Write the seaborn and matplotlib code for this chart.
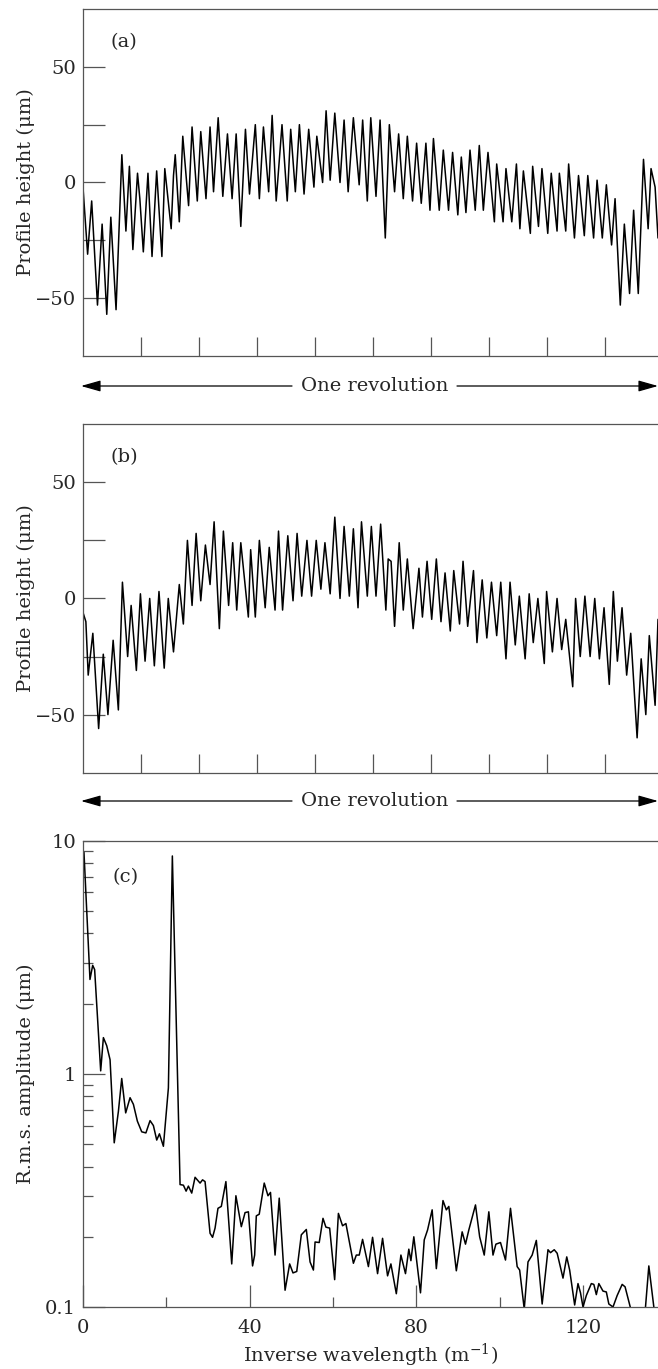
import numpy as np
import pandas as pd
import seaborn as sns
import matplotlib.pyplot as plt
from matplotlib.patches import FancyArrowPatch
from matplotlib.ticker import FixedLocator, FixedFormatter, NullFormatter, LogLocator

# profile (a): position round the wheel (tick divisions) and height (um)
pos_a = [0.00, 0.08, 0.15, 0.25, 0.33, 0.41, 0.48, 0.57, 0.67, 0.74, 0.80, 0.86, 0.94, 0.98,
         1.04, 1.12, 1.19, 1.27, 1.36, 1.41, 1.52, 1.56, 1.59, 1.66, 1.72, 1.82, 1.88, 1.97,
         2.03, 2.12, 2.19, 2.25, 2.33, 2.41, 2.49, 2.57, 2.64, 2.72, 2.80, 2.87, 2.97, 3.04,
         3.11, 3.20, 3.26, 3.33, 3.43, 3.52, 3.58, 3.66, 3.73, 3.81, 3.89, 3.98, 4.03, 4.13,
         4.19, 4.26, 4.34, 4.43, 4.50, 4.57, 4.66, 4.76, 4.82, 4.90, 4.96, 5.05, 5.12, 5.21,
         5.28, 5.37, 5.44, 5.52, 5.59, 5.68, 5.75, 5.83, 5.91, 5.98, 6.04, 6.14, 6.21, 6.30,
         6.37, 6.46, 6.52, 6.60, 6.67, 6.76, 6.83, 6.90, 6.98, 7.09, 7.13, 7.24, 7.29, 7.39,
         7.47, 7.53, 7.59, 7.71, 7.75, 7.85, 7.91, 8.01, 8.07, 8.17, 8.21, 8.32, 8.37, 8.47,
         8.54, 8.64, 8.70, 8.80, 8.86, 8.95, 9.02, 9.11, 9.17, 9.26, 9.33, 9.42, 9.49, 9.57,
         9.66, 9.74, 9.79, 9.86, 9.91]
height_a = [-2, -31, -8, -53, -18, -57, -15, -55, 12, -21, 7, -29, 4, -7,
            -30, 4, -32, 5, -32, 6, -20, 3, 12, -17, 20, -10, 24, -8,
            22, -7, 24, -4, 28, -6, 21, -7, 21, -19, 23, -5, 25, -7,
            24, -4, 29, -8, 25, -8, 23, -4, 25, -5, 23, -2, 20, 0,
            31, 1, 30, 0, 27, -4, 28, -1, 27, -8, 28, -6, 27, -24,
            25, -4, 21, -7, 20, -8, 17, -9, 17, -12, 19, -12, 14, -12,
            13, -14, 11, -13, 14, -12, 16, -12, 13, -17, 8, -17, 6, -17,
            8, -20, 5, -22, 7, -19, 6, -22, 4, -21, 4, -21, 8, -24,
            3, -23, 3, -24, 1, -24, -1, -27, -7, -53, -18, -48, -12, -48,
            10, -20, 6, -2, -24]

# profile (b)
pos_b = [0.00, 0.05, 0.09, 0.17, 0.27, 0.35, 0.43, 0.52, 0.61, 0.68, 0.77, 0.83, 0.92, 0.99,
         1.07, 1.15, 1.23, 1.31, 1.40, 1.47, 1.56, 1.66, 1.73, 1.80, 1.88, 1.95, 2.03, 2.11,
         2.19, 2.26, 2.35, 2.42, 2.51, 2.58, 2.65, 2.72, 2.85, 2.89, 2.97, 3.04, 3.14, 3.21,
         3.31, 3.37, 3.44, 3.53, 3.62, 3.69, 3.77, 3.86, 3.94, 4.02, 4.10, 4.17, 4.26, 4.34,
         4.43, 4.50, 4.59, 4.66, 4.74, 4.80, 4.90, 4.97, 5.05, 5.13, 5.22, 5.26, 5.31, 5.37,
         5.45, 5.52, 5.59, 5.69, 5.79, 5.85, 5.93, 6.01, 6.09, 6.17, 6.24, 6.33, 6.39, 6.49,
         6.55, 6.63, 6.73, 6.79, 6.82, 6.88, 6.96, 7.04, 7.13, 7.20, 7.29, 7.36, 7.45, 7.52,
         7.62, 7.69, 7.76, 7.84, 7.95, 7.99, 8.09, 8.17, 8.25, 8.32, 8.44, 8.49, 8.57, 8.65,
         8.74, 8.82, 8.90, 8.98, 9.07, 9.14, 9.21, 9.29, 9.37, 9.44, 9.55, 9.62, 9.70, 9.76,
         9.86, 9.91]
height_b = [-6, -10, -33, -15, -56, -24, -50, -18, -48, 7, -25, -3, -31, 2,
            -27, 0, -29, 3, -30, 0, -23, 6, -11, 25, -3, 28, -1, 23,
            6, 33, -13, 29, -3, 24, -5, 24, -8, 21, -8, 25, -4, 22,
            -5, 29, -5, 27, -1, 28, 1, 25, 1, 25, 4, 24, 2, 35,
            0, 31, 1, 30, -4, 33, 1, 31, 1, 32, -5, 17, 16, -12,
            24, -5, 17, -13, 13, -8, 16, -9, 17, -10, 11, -14, 12, -11,
            16, -12, 12, -19, -9, 8, -17, 7, -16, 7, -26, 7, -20, 1,
            -26, 2, -19, 0, -28, 3, -23, 0, -22, -9, -38, 0, -25, 1,
            -25, 0, -26, -4, -37, 3, -27, -4, -33, -15, -60, -26, -50, -16,
            -46, -9]

# spectrum (c): inverse wavelength (1/m) and r.m.s. amplitude (um)
freq_c = [0.0, 0.24, 1.68, 2.33, 2.8, 4.25, 4.9, 5.7, 6.5, 7.5, 8.5, 9.3, 10.25, 11.3,
          12.1, 13.05, 14.1, 15.1, 16.1, 16.9, 17.7, 18.35, 19.3, 20.5, 21.45, 23.3, 24.1,
          24.75, 25.3, 26.1, 26.9, 28.1, 28.7, 29.3, 30.5, 31.1, 31.7, 32.4, 33.2, 34.3,
          35.7, 36.7, 38.0, 38.9, 39.7, 40.7, 41.2, 41.6, 42.3, 43.5, 44.4, 45.0, 46.1,
          47.1, 48.5, 49.6, 50.4, 51.3, 52.4, 53.6, 54.5, 55.3, 55.7, 56.7, 57.6, 58.3,
          59.2, 60.4, 61.3, 62.3, 63.1, 64.9, 65.6, 66.3, 67.1, 68.5, 69.5, 70.7, 71.9,
          73.1, 73.9, 75.2, 76.3, 77.4, 78.2, 78.7, 79.4, 81.0, 81.9, 82.7, 83.8, 84.8,
          86.4, 87.2, 87.8, 89.6, 91.0, 91.8, 92.6, 94.2, 95.2, 96.3, 97.4, 98.4, 99.1,
          100.2, 101.4, 102.6, 104.2, 104.8, 105.9, 106.8, 107.8, 108.8, 110.2, 111.6,
          112.2, 113.1, 113.8, 115.2, 116.1, 116.8, 118.0, 118.8, 119.4, 120.0, 120.8,
          122.0, 122.6, 123.2, 123.8, 124.8, 125.6, 126.2, 127.2, 128.2, 129.4, 130.1,
          131.4, 133.2, 135.0, 135.8, 137.0, 138.0]
amp_c = [9.0, 8.9, 2.54, 2.92, 2.8, 1.03, 1.43, 1.32, 1.15, 0.506, 0.69, 0.955, 0.68, 0.79,
         0.74, 0.627, 0.564, 0.558, 0.63, 0.60, 0.52, 0.553, 0.489, 0.87, 8.6, 0.335, 0.333,
         0.314, 0.33, 0.308, 0.36, 0.34, 0.351, 0.345, 0.207, 0.199, 0.218, 0.265, 0.27, 0.345,
         0.153, 0.30, 0.221, 0.254, 0.256, 0.150, 0.167, 0.246, 0.25, 0.34, 0.30, 0.31, 0.167,
         0.293, 0.118, 0.153, 0.14, 0.142, 0.204, 0.215, 0.156, 0.144, 0.19, 0.189, 0.24, 0.22,
         0.218, 0.131, 0.252, 0.223, 0.228, 0.154, 0.167, 0.167, 0.195, 0.149, 0.199, 0.139, 0.197,
         0.136, 0.153, 0.114, 0.167, 0.139, 0.177, 0.158, 0.20, 0.115, 0.194, 0.214, 0.261, 0.146,
         0.286, 0.261, 0.27, 0.143, 0.21, 0.186, 0.214, 0.274, 0.20, 0.167, 0.256, 0.167, 0.186,
         0.189, 0.159, 0.265, 0.149, 0.144, 0.098, 0.156, 0.167, 0.193, 0.103, 0.176,
         0.171, 0.176, 0.17, 0.133, 0.164, 0.144, 0.102, 0.126, 0.115, 0.100, 0.112,
         0.126, 0.125, 0.113, 0.126, 0.117, 0.116, 0.103, 0.100, 0.112, 0.125, 0.122,
         0.099, 0.07, 0.100, 0.150, 0.100, 0.08]

sns.set_theme(style="ticks")
plt.rcParams['font.family'] = ['DejaVu Serif']
plt.rcParams['mathtext.fontset'] = 'dejavuserif'

spine_col = '#555555'
fs = 14

fig = plt.figure(figsize=(6.58, 13.69), dpi=100)
ax_a = fig.add_axes([0.1261, 0.7400, 0.8739, 0.2534])
ax_b = fig.add_axes([0.1261, 0.4356, 0.8739, 0.2545])
ax_c = fig.add_axes([0.1261, 0.0453, 0.8739, 0.3406])


def style_axes(ax):
    for s in ['left', 'top', 'bottom']:
        ax.spines[s].set_color(spine_col)
        ax.spines[s].set_linewidth(0.9)
    ax.spines['right'].set_visible(False)
    ax.tick_params(which='both', direction='in', color=spine_col, width=0.9,
                   labelsize=fs, pad=5, right=False, top=False)


def profile(ax, pos, h, tag):
    df = pd.DataFrame({'pos': pos, 'height': h})
    sns.lineplot(data=df, x='pos', y='height', ax=ax, color='black', lw=1.1,
                 estimator=None, sort=False)
    ax.set_xlim(0, 9.91)
    ax.set_ylim(-75, 75)
    style_axes(ax)
    ax.xaxis.set_major_locator(FixedLocator(range(1, 10)))
    ax.xaxis.set_major_formatter(NullFormatter())
    ax.yaxis.set_major_locator(FixedLocator([-50, 0, 50]))
    ax.yaxis.set_minor_locator(FixedLocator([-25, 25]))
    ax.tick_params(axis='x', which='major', length=14)
    ax.tick_params(axis='y', which='both', length=16)
    ax.set_xlabel('')
    ax.set_ylabel('Profile height (μm)', fontsize=fs)
    ax.yaxis.set_label_coords(-0.083, 0.5)
    ax.text(0.047, 0.905, tag, transform=ax.transAxes, fontsize=fs, va='center')


profile(ax_a, pos_a, height_a, '(a)')
profile(ax_b, pos_b, height_b, '(b)')

df_c = pd.DataFrame({'freq': freq_c, 'amp': amp_c})
sns.lineplot(data=df_c, x='freq', y='amp', ax=ax_c, color='black', lw=1.1,
             estimator=None, sort=False)
ax_c.set_yscale('log')
ax_c.set_xlim(0, 138)
ax_c.set_ylim(0.1, 10)
style_axes(ax_c)
ax_c.xaxis.set_major_locator(FixedLocator([0, 40, 80, 120]))
ax_c.xaxis.set_minor_locator(FixedLocator([20, 60, 100]))
ax_c.yaxis.set_major_locator(FixedLocator([0.1, 1, 10]))
ax_c.yaxis.set_major_formatter(FixedFormatter(['0.1', '1', '10']))
ax_c.yaxis.set_minor_locator(LogLocator(base=10, subs=np.arange(2, 10)))
ax_c.yaxis.set_minor_formatter(NullFormatter())
ax_c.tick_params(which='major', length=16)
ax_c.tick_params(which='minor', length=7)
ax_c.tick_params(axis='x', which='both', pad=9)
ax_c.set_xlabel('Inverse wavelength (m$^{-1}$)', fontsize=fs, labelpad=3)
ax_c.set_ylabel('R.m.s. amplitude (μm)', fontsize=fs)
ax_c.yaxis.set_label_coords(-0.083, 0.5)
ax_c.text(0.052, 0.923, '(c)', transform=ax_c.transAxes, fontsize=fs, va='center')

# "One revolution" double arrows under the two profiles
for yy in [1 - 386 / 1369, 1 - 801 / 1369]:
    fig.text(375 / 658, yy, 'One revolution', fontsize=fs, ha='center', va='center')
    for x0, x1 in [(292 / 658, 81 / 658), (457 / 658, 658 / 658)]:
        fig.add_artist(FancyArrowPatch(
            (x0, yy), (x1, yy), transform=fig.transFigure,
            arrowstyle='-|>,head_length=0.6,head_width=0.17', mutation_scale=20,
            color='black', lw=0.9, shrinkA=0, shrinkB=0))

fig.savefig('out.png', dpi=100)
